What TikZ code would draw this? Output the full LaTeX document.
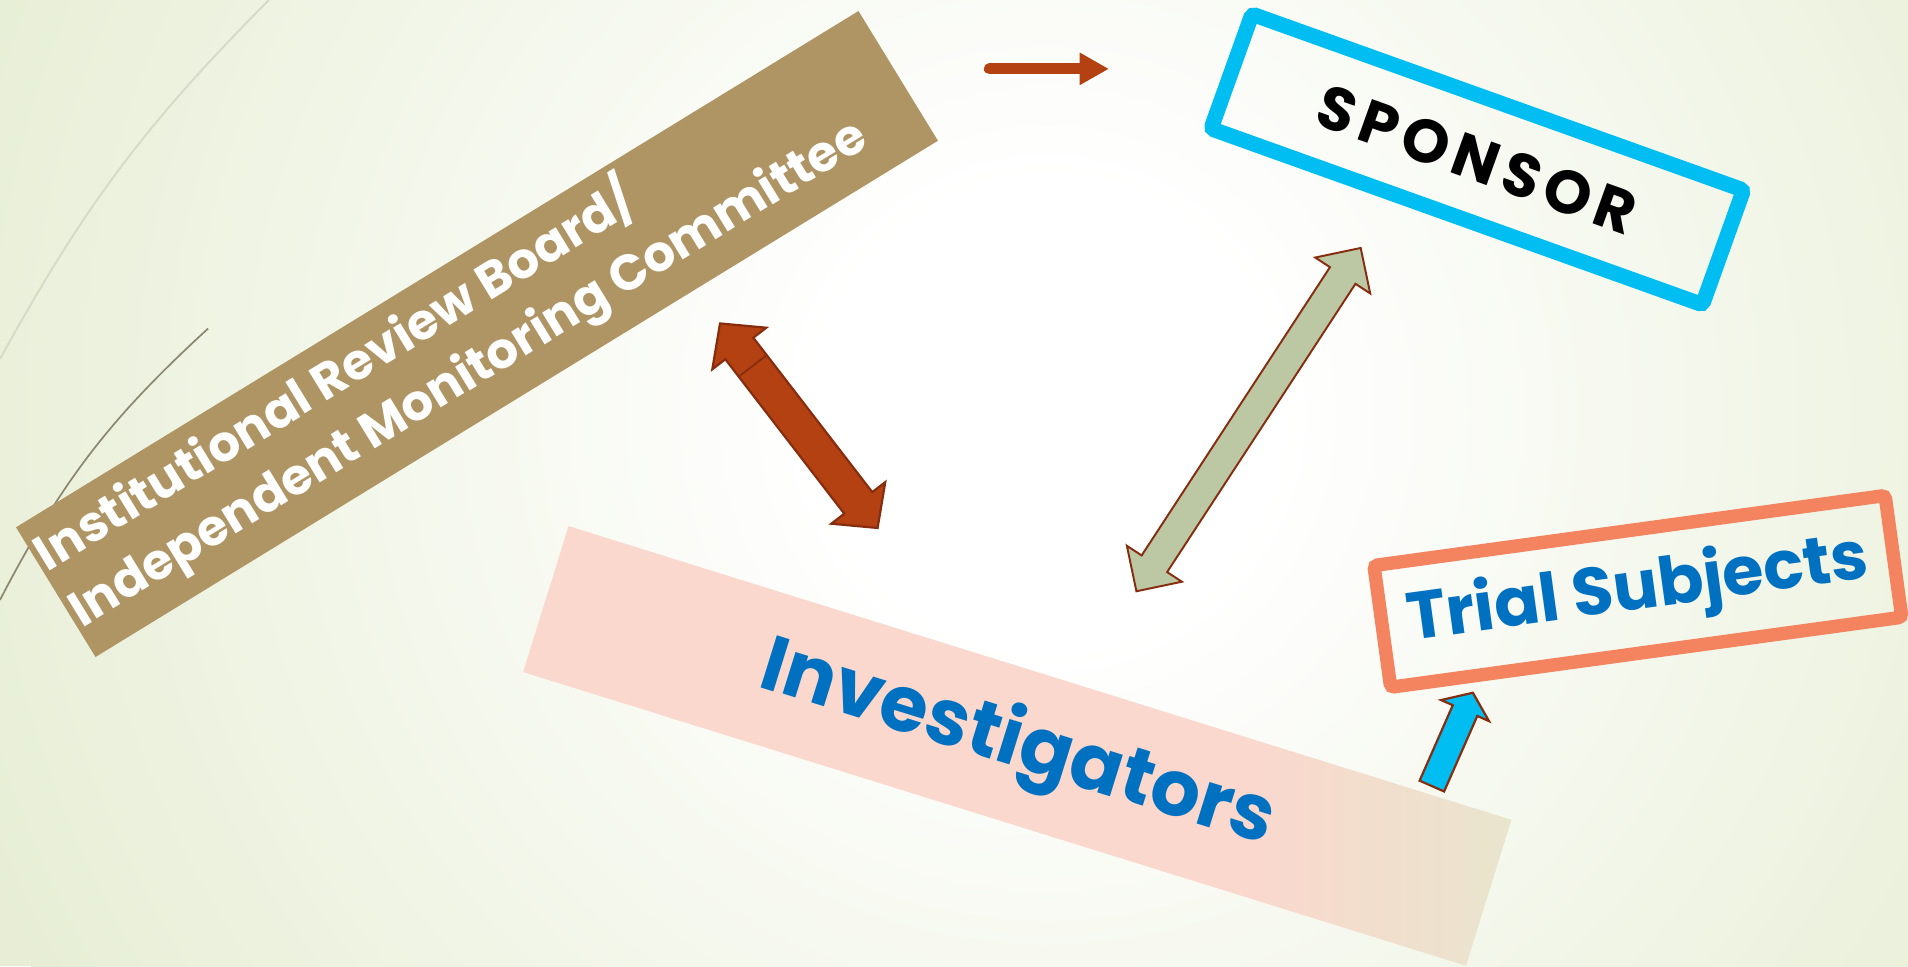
\documentclass[tikz,border=0pt]{standalone}
\usepackage{fontspec}
\setmainfont{Poppins}
\usetikzlibrary{positioning,calc,arrows.meta}
\definecolor{bgedge}{RGB}{231,238,213}
\definecolor{irbbrown}{RGB}{175,148,100}
\definecolor{sponsorblue}{RGB}{0,190,242}
\definecolor{trialorange}{RGB}{244,132,95}
\definecolor{invpink}{RGB}{250,216,205}
\definecolor{invbeige}{RGB}{232,229,205}
\definecolor{textblue}{RGB}{0,112,192}
\definecolor{rustred}{RGB}{180,65,18}
\definecolor{rustdark}{RGB}{135,45,15}
\definecolor{sage}{RGB}{188,200,164}
\definecolor{arcgrey}{RGB}{214,218,200}
\definecolor{arcdark}{RGB}{140,136,112}

\pgfdeclareradialshading{bgglow}{\pgfpoint{0bp}{0bp}}{color(0bp)=(white); color(5bp)=(white); color(25bp)=(bgedge); color(50bp)=(bgedge)}
\pgfdeclarehorizontalshading{invshade}{100bp}{color(0bp)=(invpink); color(25bp)=(invpink); color(62bp)=(invpink); color(75bp)=(invbeige); color(100bp)=(invbeige)}

% block arrows: style, end, end, half shaft, half head, head length
\newcommand\dblarrow[6]{%
  \filldraw[#1] (#2)
    -- ($(#2)!#6!(#3)!#5!90:(#3)$)
    -- ($(#2)!#6!(#3)!#4!90:(#3)$)
    -- ($(#3)!#6!(#2)!#4!-90:(#2)$)
    -- ($(#3)!#6!(#2)!#5!-90:(#2)$)
    -- (#3)
    -- ($(#3)!#6!(#2)!#5!90:(#2)$)
    -- ($(#3)!#6!(#2)!#4!90:(#2)$)
    -- ($(#2)!#6!(#3)!#4!-90:(#3)$)
    -- ($(#2)!#6!(#3)!#5!-90:(#3)$)
    -- cycle;}
\newcommand\sglarrow[6]{%
  \filldraw[#1] ($(#2)!#4!90:(#3)$)
    -- ($(#3)!#6!(#2)!#4!-90:(#2)$)
    -- ($(#3)!#6!(#2)!#5!-90:(#2)$)
    -- (#3)
    -- ($(#3)!#6!(#2)!#5!90:(#2)$)
    -- ($(#3)!#6!(#2)!#4!90:(#2)$)
    -- ($(#2)!#4!-90:(#3)$)
    -- cycle;}

\begin{document}
\begin{tikzpicture}[x=1pt, y=-1pt,
    box/.style={draw, rectangle, rounded corners=3pt, inner sep=0pt},
    arrowfill/.style={draw=rustdark, line width=1.8pt, line join=miter}]
    \useasboundingbox (0,0) rectangle (1568,794);
    \begin{scope}
        \clip (0,0) rectangle (1568,794);
        \fill[bgedge] (0,0) rectangle (1568,794);
        \shade[shading=bgglow] (860,340) circle (950);
    \end{scope}
    \draw[arcgrey, line width=1.6pt] (221,0) to[bend right=8] (0,295);
    \draw[arcdark, line width=1.4pt] (171,270) to[bend right=10] (0,493);

    % boards and boxes
    \node[fill=irbbrown, minimum width=812pt, minimum height=125pt, inner sep=0pt, rotate=31.5] (irb) at (392,274.5) {};
    \node[text=white, font=\bfseries\fontsize{41}{54}\selectfont, align=left, anchor=west, inner sep=0pt, rotate=31.5] (irbtext) at (46,481.5) {Institutional Review Board/\\Independent Monitoring Committee};

    \node[box, draw=sponsorblue, line width=12.5pt, minimum width=429pt, minimum height=100pt, rotate=-19.7,
        font=\bfseries\fontsize{50}{60}\selectfont\addfontfeatures{LetterSpace=11}] (sponsor) at (1214,131) {SPONSOR};

    \node[box, draw=trialorange, line width=11pt, minimum width=424pt, minimum height=101pt, rotate=7.8,
        text=textblue, font=\bfseries\fontsize{55}{66}\selectfont] (trial) at (1346,486) {Trial Subjects};

    \node[shade, shading=invshade, minimum width=811.6pt, minimum height=125.6pt, inner sep=0pt, rotate=-17.3,
        text=textblue, font=\bfseries\fontsize{64}{76}\selectfont] (invest) at (836,613) {Investigators};

    % arrows
    \coordinate (smalltail) at (813,56.6);
    \coordinate (smalltip) at (911.3,56.6);
    \draw[rustred, line width=9pt, line cap=round, -{Triangle[length=24pt, width=25pt]}] (smalltail) -- (smalltip);

    \coordinate (redtop) at (591.7,265.8);
    \coordinate (redbot) at (721.2,433.9);
    \dblarrow{arrowfill, fill=rustred}{redtop}{redbot}{14.5pt}{28pt}{26pt}
    \draw[rustdark, line width=1.5pt] ($(redtop)!44pt!(redbot)!14.5pt!90:(redbot)$) -- ($(redtop)!44pt!(redbot)!14.5pt!-90:(redbot)$);

    \coordinate (sagetop) at (1118.2,203.8);
    \coordinate (sagebot) at (933.9,485.9);
    \dblarrow{arrowfill, line width=1.6pt, fill=sage}{sagetop}{sagebot}{12.5pt}{27pt}{27pt}

    \coordinate (bluetail) at (1176.7,646);
    \coordinate (bluetip) at (1210.4,569.3);
    \sglarrow{arrowfill, fill=sponsorblue}{bluetail}{bluetip}{11pt}{21.5pt}{16pt}
\end{tikzpicture}
\end{document}
